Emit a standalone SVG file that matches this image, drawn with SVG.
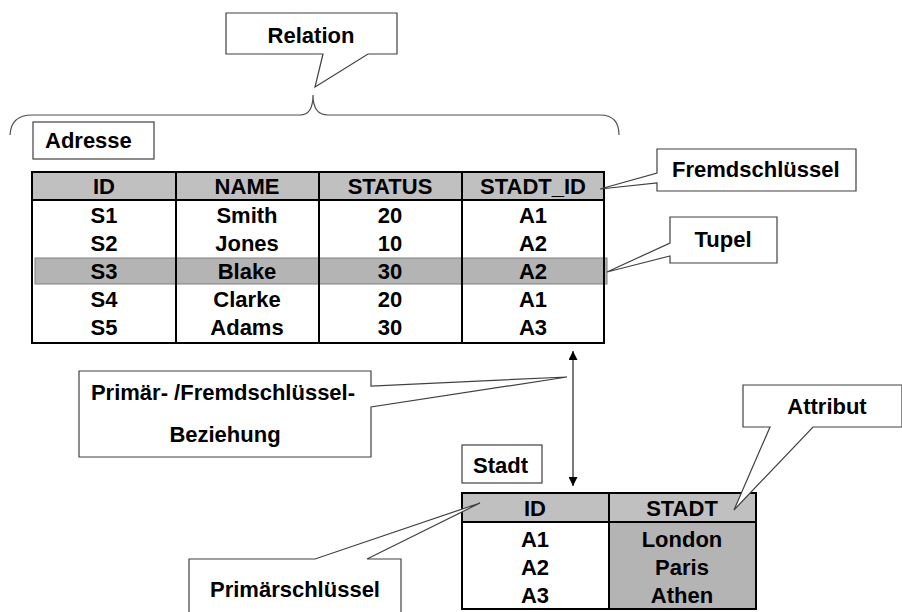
<svg xmlns="http://www.w3.org/2000/svg" width="902" height="612" viewBox="0 0 902 612">
  <style>
    text { font-family: "Liberation Sans", Arial, sans-serif; font-weight: bold; font-size: 22px; fill: #000; }
    .c { text-anchor: middle; }
    .callout { fill: #fff; stroke: #404040; stroke-width: 1.2; }
    .label { fill: #fff; stroke: #404040; stroke-width: 1.2; }
    .hdr { fill: #c0c0c0; }
    .dark { fill: #b4b4b4; }
    .grid { fill: none; stroke: #000; stroke-width: 2; }
    .brace { fill: none; stroke: #505050; stroke-width: 1.2; }
    .conn { stroke: #202020; stroke-width: 1.2; fill: none; }
  </style>
  <defs>
    <marker id="arrowhead" viewBox="0 0 10 10" refX="10" refY="5" markerWidth="9" markerHeight="9" markerUnits="userSpaceOnUse" orient="auto-start-reverse">
      <path d="M0,0 L10,5 L0,10 z" fill="#000"/>
    </marker>
  </defs>
  <rect width="902" height="612" fill="#fff"/>

  <!-- brace spanning the relation -->
  <path class="brace" d="M10,135 Q11,115 32,115 L300,115 Q313,115 313,95 Q313,115 328,115 L600,115 Q619,115 619,135"/>

  <!-- Relation callout -->
  <g id="relation">
    <path class="callout" d="M226,13 L397,13 L397,54 L368,54 L315,87 L323,54 L226,54 Z"/>
    <text class="c" x="311" y="43">Relation</text>
  </g>

  <!-- Adresse table -->
  <g id="adresse">
    <rect class="label" x="33" y="122" width="121" height="37"/>
    <text x="45" y="148">Adresse</text>
    <rect class="hdr" x="32" y="172" width="572" height="28"/>
    <rect x="35" y="258" width="572" height="26" fill="#b4b4b4" stroke="#808080" stroke-width="1"/>
    <rect class="grid" x="32" y="172" width="572" height="171"/>
    <line class="grid" x1="32" y1="200" x2="604" y2="200"/>
    <line class="grid" x1="176" y1="172" x2="176" y2="343"/>
    <line class="grid" x1="319" y1="172" x2="319" y2="343"/>
    <line class="grid" x1="462" y1="172" x2="462" y2="343"/>
    <g class="c">
      <text class="c" x="104" y="194">ID</text>
      <text class="c" x="247" y="194">NAME</text>
      <text class="c" x="390" y="194">STATUS</text>
      <text class="c" x="533" y="194">STADT_ID</text>
      <text class="c" x="104" y="223">S1</text>
      <text class="c" x="247" y="223">Smith</text>
      <text class="c" x="390" y="223">20</text>
      <text class="c" x="533" y="223">A1</text>
      <text class="c" x="104" y="251">S2</text>
      <text class="c" x="247" y="251">Jones</text>
      <text class="c" x="390" y="251">10</text>
      <text class="c" x="533" y="251">A2</text>
      <text class="c" x="104" y="279">S3</text>
      <text class="c" x="247" y="279">Blake</text>
      <text class="c" x="390" y="279">30</text>
      <text class="c" x="533" y="279">A2</text>
      <text class="c" x="104" y="307">S4</text>
      <text class="c" x="247" y="307">Clarke</text>
      <text class="c" x="390" y="307">20</text>
      <text class="c" x="533" y="307">A1</text>
      <text class="c" x="104" y="335">S5</text>
      <text class="c" x="247" y="335">Adams</text>
      <text class="c" x="390" y="335">30</text>
      <text class="c" x="533" y="335">A3</text>
    </g>
  </g>

  <!-- Fremdschlüssel callout -->
  <g id="fremdschluessel">
    <path class="callout" d="M657,149 L856,149 L856,191 L657,191 L657,183 L600,189 L657,173 Z"/>
    <text x="672" y="177">Fremdschlüssel</text>
  </g>

  <!-- Tupel callout -->
  <g id="tupel">
    <path class="callout" d="M670,217 L777,217 L777,263 L670,263 L670,256 L607,272 L670,243 Z"/>
    <text class="c" x="723" y="247">Tupel</text>
  </g>

  <!-- Primär-/Fremdschlüssel-Beziehung callout -->
  <g id="beziehung">
    <path class="callout" d="M79,371 L371,371 L371,386 L567,377 L371,407 L371,457 L79,457 Z"/>
    <text class="c" x="223" y="400">Primär- /Fremdschlüssel-</text>
    <text class="c" x="225" y="442">Beziehung</text>
  </g>

  <!-- relationship connector -->
  <g id="connectors">
    <line class="conn" x1="573" y1="351" x2="573" y2="486" marker-start="url(#arrowhead)" marker-end="url(#arrowhead)"/>
  </g>

  <!-- Stadt table -->
  <g id="stadt">
    <rect class="label" x="462" y="445" width="80" height="38"/>
    <text x="473" y="473">Stadt</text>
    <rect class="hdr" x="462" y="493" width="294" height="29"/>
    <rect class="dark" x="609" y="522" width="147" height="87"/>
    <rect class="grid" x="462" y="493" width="294" height="116"/>
    <line class="grid" x1="462" y1="522" x2="756" y2="522"/>
    <line class="grid" x1="609" y1="493" x2="609" y2="609"/>
    <text class="c" x="535" y="516">ID</text>
    <text class="c" x="682" y="516">STADT</text>
    <text class="c" x="535" y="547">A1</text>
    <text class="c" x="682" y="547">London</text>
    <text class="c" x="535" y="575">A2</text>
    <text class="c" x="682" y="575">Paris</text>
    <text class="c" x="535" y="603">A3</text>
    <text class="c" x="682" y="603">Athen</text>
  </g>

  <!-- Attribut callout -->
  <g id="attribut">
    <path class="callout" d="M743,385 L902,385 L902,427 L813,427 L734,510 L770,427 L743,427 Z"/>
    <text class="c" x="827" y="414">Attribut</text>
  </g>

  <!-- Primärschlüssel callout -->
  <g id="primaerschluessel">
    <path class="callout" d="M189,559 L315,559 L480,503 L367,559 L401,559 L401,613 L189,613 Z"/>
    <text class="c" x="295" y="597">Primärschlüssel</text>
  </g>
</svg>
